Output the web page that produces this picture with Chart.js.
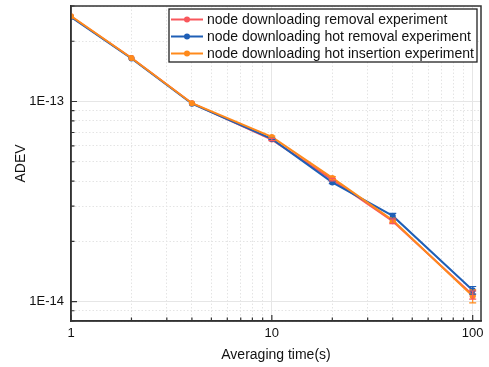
<!DOCTYPE html>
<html>
<head>
<meta charset="utf-8">
<script src="https://cdn.jsdelivr.net/npm/chart.js@4"></script>
<style>
  html, body { margin: 0; padding: 0; background: #fff; }
  #wrap { width: 489px; height: 367px; }
</style>
</head>
<body>
<div id="wrap"><canvas id="chart"></canvas></div>
<script>
// data
const tau = [1, 2, 4, 10, 20, 40, 100];

const removal = [2.66e-13, 1.65e-13, 9.8e-14, 6.45e-14, 4.07e-14, 2.52e-14, 1.08e-14];
const hotRemoval = [2.64e-13, 1.64e-13, 9.75e-14, 6.5e-14, 3.94e-14, 2.68e-14, 1.14e-14];
const hotInsertion = [2.67e-13, 1.65e-13, 9.8e-14, 6.65e-14, 4.15e-14, 2.55e-14, 1.065e-14];

const removalErr = [0, 0, 0, 0.08e-14, 0.06e-14, 0.07e-14, 0.05e-14];
const hotRemovalErr = [0, 0, 0, 0.05e-14, 0.05e-14, 0.08e-14, 0.05e-14];
const hotInsertionErr = [0, 0, 0, 0.06e-14, 0.06e-14, 0.06e-14, 0.08e-14];

const labels = [
  'node downloading removal experiment',
  'node downloading hot removal experiment',
  'node downloading hot insertion experiment'
];

const xTicks = [1, 2, 3, 4, 5, 6, 7, 8, 9, 10, 20, 30, 40, 50, 60, 70, 80, 90, 100];
const yTicks = [8e-15, 9e-15, 1e-14, 2e-14, 3e-14, 4e-14, 5e-14, 6e-14, 7e-14, 8e-14, 9e-14,
  1e-13, 2e-13, 3e-13];

const RED = '#f8575c';
const BLUE = '#1f5fb6';
const ORANGE = '#ff8a1c';
const FONT = 'Liberation Sans, Arial, sans-serif';

function isDecade(v) {
  const e = Math.log10(v);
  return Math.abs(e - Math.round(e)) < 1e-6;
}

function pts(ys, errs) {
  return tau.map((t, i) => ({ x: t, y: ys[i], err: errs[i] }));
}

function ds(label, ys, errs, color, order) {
  return {
    label: label,
    data: pts(ys, errs),
    borderColor: color,
    backgroundColor: color,
    borderWidth: 2,
    pointRadius: 3,
    pointHoverRadius: 3,
    pointBorderWidth: 0,
    tension: 0,
    order: order
  };
}

// error bars, frame, inward ticks, legend box
const extras = {
  id: 'extras',
  afterDatasetsDraw(chart) {
    const c = chart.ctx;
    const xs = chart.scales.x, ys = chart.scales.y;
    const a = chart.chartArea;
    c.save();
    // error bars
    chart.data.datasets.slice().reverse().forEach(d => {
      c.strokeStyle = d.borderColor;
      c.lineWidth = 1.2;
      d.data.forEach(p => {
        if (!p.err) return;
        const px = xs.getPixelForValue(p.x);
        const y1 = ys.getPixelForValue(p.y + p.err);
        const y2 = ys.getPixelForValue(p.y - p.err);
        c.beginPath();
        c.moveTo(px, y1); c.lineTo(px, y2);
        c.moveTo(px - 3.5, y1); c.lineTo(px + 3.5, y1);
        c.moveTo(px - 3.5, y2); c.lineTo(px + 3.5, y2);
        c.stroke();
      });
    });
    // frame
    c.strokeStyle = '#333';
    c.lineWidth = 1.5;
    c.strokeRect(a.left, a.top, a.right - a.left, a.bottom - a.top);
    // inward ticks
    c.lineWidth = 1.2;
    c.beginPath();
    xTicks.forEach(v => {
      const px = xs.getPixelForValue(v);
      const len = isDecade(v) ? 6 : 3.5;
      c.moveTo(px, a.bottom); c.lineTo(px, a.bottom - len);
    });
    yTicks.forEach(v => {
      const py = ys.getPixelForValue(v);
      const len = isDecade(v) ? 6 : 3.5;
      c.moveTo(a.left, py); c.lineTo(a.left + len, py);
    });
    c.stroke();
    // legend
    const lx = 169, ly = 9, lw = 308, lh = 53;
    c.fillStyle = '#fff';
    c.fillRect(lx, ly, lw, lh);
    c.strokeStyle = '#222';
    c.lineWidth = 1.3;
    c.strokeRect(lx, ly, lw, lh);
    c.font = '14px ' + FONT;
    c.textBaseline = 'middle';
    chart.data.datasets.forEach((d, i) => {
      const cy = ly + 10.5 + i * 17;
      c.strokeStyle = d.borderColor;
      c.lineWidth = 2;
      c.beginPath();
      c.moveTo(lx + 2, cy); c.lineTo(lx + 34, cy);
      c.stroke();
      c.fillStyle = d.borderColor;
      c.beginPath();
      c.arc(lx + 18, cy, 3, 0, Math.PI * 2);
      c.fill();
      c.fillStyle = '#111';
      c.fillText(d.label, lx + 38, cy + 0.5);
    });
    c.restore();
  }
};

new Chart(document.getElementById('chart'), {
  type: 'line',
  data: {
    datasets: [
      ds(labels[0], removal, removalErr, RED, 2),
      ds(labels[1], hotRemoval, hotRemovalErr, BLUE, 1),
      ds(labels[2], hotInsertion, hotInsertionErr, ORANGE, 0)
    ]
  },
  options: {
    responsive: true,
    maintainAspectRatio: false,
    animation: false,
    layout: { padding: { top: 6, right: 8, left: 0, bottom: 0 } },
    plugins: {
      legend: { display: false },
      tooltip: { enabled: false }
    },
    scales: {
      x: {
        type: 'logarithmic',
        min: 1,
        max: 110,
        afterBuildTicks: s => { s.ticks = xTicks.map(v => ({ value: v, major: isDecade(v) })); },
        afterFit: s => { s.height = 46; s.paddingLeft = 0; s.paddingRight = 0; },
        ticks: {
          autoSkip: false,
          maxRotation: 0,
          padding: 5,
          color: '#111',
          font: { family: FONT, size: 13 },
          callback: v => isDecade(v) ? String(Math.round(v)) : ''
        },
        grid: {
          drawTicks: false,
          color: ctx => ctx.tick && isDecade(ctx.tick.value) ? '#e6e6e6' : '#e4e4e4',
          lineWidth: 1
        },
        border: {
          display: true,
          color: '#333',
          width: 1.5,
          dash: ctx => ctx.tick && isDecade(ctx.tick.value) ? [] : [1.5, 2]
        },
        title: {
          display: true,
          text: 'Averaging time(s)',
          color: '#111',
          font: { family: FONT, size: 14 },
          padding: { top: 3, bottom: 3 }
        }
      },
      y: {
        type: 'logarithmic',
        min: 8e-15,
        max: 3e-13,
        afterBuildTicks: s => { s.ticks = yTicks.map(v => ({ value: v, major: isDecade(v) })); },
        afterFit: s => { s.width = 71; s.paddingTop = 0; s.paddingBottom = 0; },
        ticks: {
          autoSkip: false,
          padding: 7,
          color: '#111',
          font: { family: FONT, size: 13 },
          callback: v => isDecade(v) ? '1E' + Math.round(Math.log10(v)) : ''
        },
        grid: {
          drawTicks: false,
          color: ctx => ctx.tick && isDecade(ctx.tick.value) ? '#e6e6e6' : '#e4e4e4',
          lineWidth: 1
        },
        border: {
          display: true,
          color: '#333',
          width: 1.5,
          dash: ctx => ctx.tick && isDecade(ctx.tick.value) ? [] : [1.5, 2]
        },
        title: {
          display: true,
          text: 'ADEV',
          color: '#111',
          font: { family: FONT, size: 14 },
          padding: { top: 13, bottom: 13 }
        }
      }
    }
  },
  plugins: [extras]
});
</script>
</body>
</html>
